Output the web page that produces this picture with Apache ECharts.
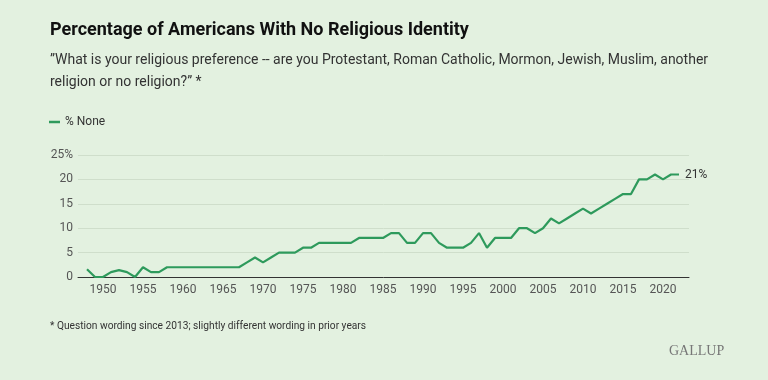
<!DOCTYPE html>
<html><head><meta charset="utf-8">
<script src="https://cdn.jsdelivr.net/npm/echarts@6/dist/echarts.min.js"></script>
<style>html,body{margin:0;padding:0;background:#e3f1e0}#c{width:768px;height:380px}</style>
</head><body><div id="c"></div>
<script>
const years = [1948,1949,1950,1951,1952,1953,1954,1955,1956,1957,1958,1959,1960,1961,1962,1963,1964,1965,1966,1967,1968,1969,1970,1971,1972,1973,1974,1975,1976,1977,1978,1979,1980,1981,1982,1983,1984,1985,1986,1987,1988,1989,1990,1991,1992,1993,1994,1995,1996,1997,1998,1999,2000,2001,2002,2003,2004,2005,2006,2007,2008,2009,2010,2011,2012,2013,2014,2015,2016,2017,2018,2019,2020,2021,2022];
const noneValues = [1.6,0,0,1,1.4,1,0,2,1,1,2,2,2,2,2,2,2,2,2,2,3,4,3,4,5,5,5,6,6,7,7,7,7,7,8,8,8,8,9,9,7,7,9,9,7,6,6,6,7,9,6,8,8,8,10,10,9,10,12,11,12,13,14,13,14,15,16,17,17,20,20,21,20,21,21];
const xTickLabels = [1950,1955,1960,1965,1970,1975,1980,1985,1990,1995,2000,2005,2010,2015,2020];
const yTicks = [0,5,10,15,20,25];

const chart = echarts.init(document.getElementById('c'), null, {renderer:'canvas'});
const F = 'Roboto, "Noto Sans", sans-serif';
chart.setOption({
  backgroundColor:'#e3f1e0',
  animation:false,
  title:[{
    text:'Percentage of Americans With No Religious Identity',
    left:45, top:16,
    textStyle:{fontFamily:F, fontSize:18, fontWeight:'bold', color:'#111'}
  },{
    text:'\u201dWhat is your religious preference -- are you Protestant, Roman Catholic, Mormon, Jewish, Muslim, another\nreligion or no religion?\u201d *',
    left:45, top:44,
    textStyle:{fontFamily:F, fontSize:14, fontWeight:'normal', color:'#333', lineHeight:22}
  },{
    text:'* Question wording since 2013; slightly different wording in prior years',
    left:45, top:316,
    textStyle:{fontFamily:F, fontSize:10.2, fontWeight:'normal', color:'#333'}
  },{
    text:'GALLUP',
    left:664, top:339,
    textStyle:{fontFamily:'"Liberation Serif", "DejaVu Serif", serif', fontSize:14, fontWeight:'normal', color:'#777'}
  }],
  legend:{
    left:44, top:111,
    icon:'rect', itemWidth:11, itemHeight:2.5, itemGap:10, itemStyle:{borderWidth:0},
    textStyle:{fontFamily:F, fontSize:12, color:'#333'},
    data:['% None']
  },
  grid:{left:78, right:79, top:155, bottom:103, containLabel:false},
  xAxis:{
    type:'value', min:1946.875, max:2023.25,
    axisLine:{show:true, lineStyle:{color:'#333', width:1}},
    axisTick:{show:false},
    splitLine:{show:false},
    axisLabel:{customValues:xTickLabels, formatter:v=>String(v), color:'#555', fontFamily:F, fontSize:12, margin:7}
  },
  yAxis:{
    type:'value', min:0, max:25, interval:5,
    axisLine:{show:false}, axisTick:{show:false},
    splitLine:{lineStyle:{color:'#cfdecb', width:1}},
    axisLabel:{color:'#555', fontFamily:F, fontSize:12, margin:5,
      formatter:v=> v===25 ? '25%' : String(v)}
  },
  series:[{
    name:'% None', type:'line',
    data:years.map((y,i)=>[y,noneValues[i]]),
    showSymbol:false, symbol:'none',
    lineStyle:{color:'#2e9a5c', width:2.2},
    itemStyle:{color:'#2e9a5c'},
    endLabel:{show:true, formatter:p=>p.value[1]+'%', color:'#333', fontFamily:F, fontSize:12, distance:6}
  }]
});
</script></body></html>
